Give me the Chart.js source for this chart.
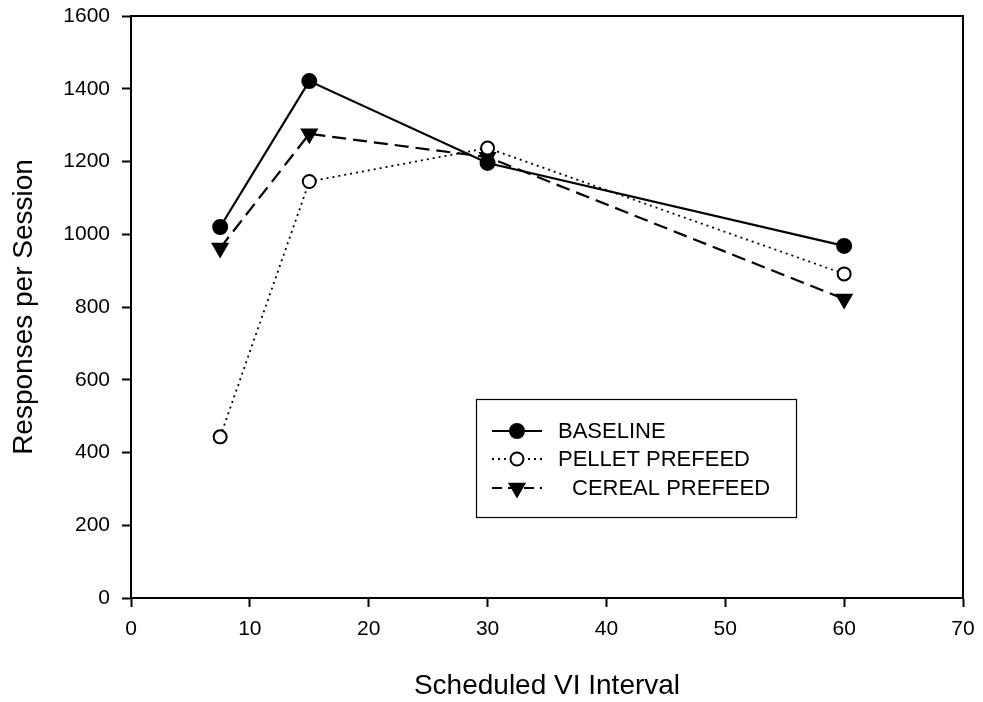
<!DOCTYPE html>
<html>
<head>
<meta charset="utf-8">
<script src="https://cdn.jsdelivr.net/npm/chart.js@4"></script>
<style>
  html, body { margin: 0; padding: 0; background: #fff; }
  #wrap { width: 983px; height: 702px; }
</style>
</head>
<body>
<div id="wrap"><canvas id="chart" width="983" height="702"></canvas></div>
<script>
const intervals = [7.5, 15, 30, 60];
const baseline = [1020, 1421, 1196, 968];
const pelletPrefeed = [443, 1145, 1237, 891];
const cerealPrefeed = [962, 1276, 1212, 822];
const xTicks = [0, 10, 20, 30, 40, 50, 60, 70];
const yTicks = [0, 200, 400, 600, 800, 1000, 1200, 1400, 1600];

const FONT = "'Liberation Sans', Arial, Helvetica, sans-serif";

function pts(values) {
    return intervals.map((x, i) => ({ x: x, y: values[i] }));
}

const seriesDefs = [
    { label: "BASELINE", data: baseline, dash: [], width: 2.2, style: "circle", radius: 7, fill: "#000", rot: 0, textX: 558 },
    { label: "PELLET PREFEED", data: pelletPrefeed, dash: [2, 4], width: 1.8, style: "circle", radius: 6.5, fill: "#fff", rot: 0, textX: 558 },
    { label: "CEREAL PREFEED", data: cerealPrefeed, dash: [14, 7], width: 2.2, style: "triangle", radius: 8.5, fill: "#000", rot: 180, textX: 572 }
];

// box around plot + legend box
const framePlugin = {
    id: "frame",
    afterDraw(chart) {
        const ctx = chart.ctx;
        const a = chart.chartArea;
        ctx.save();
        ctx.strokeStyle = "#000";
        ctx.lineWidth = 2;
        ctx.strokeRect(a.left, a.top, a.right - a.left, a.bottom - a.top);

        // legend
        ctx.lineWidth = 1.2;
        ctx.strokeRect(476.5, 399.5, 320, 118);
        const rows = [431, 459, 488];
        seriesDefs.forEach((s, i) => {
            const y = rows[i];
            ctx.save();
            ctx.setLineDash(s.dash.length ? (i === 1 ? [2, 4] : [10, 6]) : []);
            ctx.lineWidth = s.width;
            ctx.strokeStyle = "#000";
            ctx.beginPath();
            ctx.moveTo(492, y);
            ctx.lineTo(542, y);
            ctx.stroke();
            ctx.restore();
            ctx.save();
            ctx.fillStyle = s.fill;
            ctx.strokeStyle = "#000";
            ctx.lineWidth = 2;
            ctx.setLineDash([]);
            Chart.helpers.drawPoint(ctx, { pointStyle: s.style, radius: s.radius, rotation: s.rot, borderWidth: 2 }, 517, y);
            ctx.restore();
            ctx.fillStyle = "#000";
            ctx.font = "22px " + FONT;
            ctx.textBaseline = "middle";
            ctx.fillText(s.label, s.textX, y + 1);
        });
        ctx.restore();
    }
};

const ctx = document.getElementById("chart").getContext("2d");

new Chart(ctx, {
    type: "line",
    data: {
        datasets: seriesDefs.map(s => ({
            label: s.label,
            data: pts(s.data),
            borderColor: "#000",
            borderWidth: s.width,
            borderDash: s.dash,
            pointStyle: s.style,
            pointRadius: s.radius,
            pointRotation: s.rot,
            pointBackgroundColor: s.fill,
            pointBorderColor: "#000",
            pointBorderWidth: 2,
            fill: false,
            tension: 0
        }))
    },
    options: {
        responsive: false,
        animation: false,
        events: [],
        layout: { padding: { top: 16, right: 20, left: 0, bottom: 0 } },
        plugins: {
            legend: { display: false },
            tooltip: { enabled: false }
        },
        scales: {
            x: {
                type: "linear",
                min: 0,
                max: 70,
                afterBuildTicks: sc => { sc.ticks = xTicks.map(v => ({ value: v })); },
                afterFit: sc => { sc.height = 104; sc.paddingLeft = 0; sc.paddingRight = 0; },
                grid: { drawOnChartArea: false, drawTicks: true, tickLength: 9, color: "#000", tickWidth: 2 },
                border: { display: true, color: "#000", width: 2 },
                ticks: { color: "#000", font: { family: FONT, size: 21 }, padding: 10, maxRotation: 0,
                         callback: v => String(v) },
                title: { display: true, text: "Scheduled VI Interval", color: "#000",
                         font: { family: FONT, size: 28 }, padding: { top: 0, bottom: -1 } }
            },
            y: {
                type: "linear",
                min: 0,
                max: 1600,
                afterBuildTicks: sc => { sc.ticks = yTicks.map(v => ({ value: v })); },
                afterFit: sc => { sc.width = 131; sc.paddingTop = 0; sc.paddingBottom = 0; },
                grid: { drawOnChartArea: false, drawTicks: true, tickLength: 9, color: "#000", tickWidth: 2 },
                border: { display: true, color: "#000", width: 2 },
                ticks: { color: "#000", font: { family: FONT, size: 21 }, padding: 12,
                         callback: v => String(v) },
                title: { display: true, text: "Responses per Session", color: "#000",
                         font: { family: FONT, size: 28 }, padding: { top: 7, bottom: 0 } }
            }
        }
    },
    plugins: [framePlugin]
});
</script>
</body>
</html>
